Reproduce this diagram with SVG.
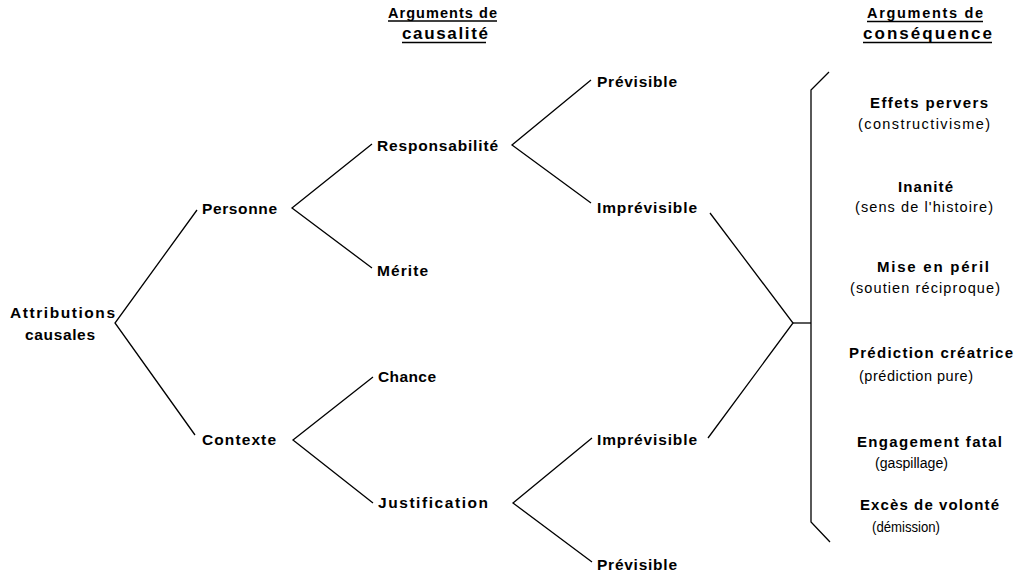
<svg xmlns="http://www.w3.org/2000/svg" width="1020" height="579" viewBox="0 0 1020 579">
<style>
  .b{font-family:"Liberation Sans",Arial,sans-serif;font-weight:bold;font-size:15.5px;fill:#000}
  .rb{font-family:"Liberation Sans",Arial,sans-serif;font-weight:bold;font-size:15px;fill:#000}
  .r{font-family:"Liberation Sans",Arial,sans-serif;font-size:14.5px;fill:#000}
  .rs{font-family:"Liberation Sans",Arial,sans-serif;font-size:14px;fill:#000}
  .h{font-family:"Liberation Sans",Arial,sans-serif;font-weight:bold;font-size:14.5px;fill:#000}
  .h2{font-family:"Liberation Sans",Arial,sans-serif;font-weight:bold;font-size:17px;fill:#000}
  .ln{stroke:#000;stroke-width:1.3;fill:none;stroke-linejoin:miter}
  .ul{stroke:#000;stroke-width:1.6}
</style>
<rect width="1020" height="579" fill="#fff"/>
<g id="headers">
  <text class="h" x="388" y="18" textLength="109" lengthAdjust="spacing">Arguments de</text>
  <line class="ul" x1="388" y1="21" x2="497" y2="21"/>
  <text class="h2" x="402" y="39" textLength="86" lengthAdjust="spacing">causalité</text>
  <line class="ul" x1="402" y1="42.5" x2="486" y2="42.5"/>
  <text class="h" x="867" y="18" textLength="116" lengthAdjust="spacing">Arguments de</text>
  <line class="ul" x1="867" y1="21.5" x2="983" y2="21.5"/>
  <text class="h2" x="863" y="39" textLength="129" lengthAdjust="spacing">conséquence</text>
  <line class="ul" x1="863" y1="42.5" x2="992" y2="42.5"/>
</g>
<g id="connectors">
  <polyline class="ln" points="197,210 115,323 195,435"/>
  <polyline class="ln" points="372,144 292,208 372,268"/>
  <polyline class="ln" points="591,80 512,145 591,203"/>
  <polyline class="ln" points="373,377 293,440 373,503"/>
  <polyline class="ln" points="592,438 513,503 592,562"/>
  <polyline class="ln" points="710,213 793,323 708,438"/>
  <line class="ln" x1="793" y1="323" x2="811" y2="323"/>
  <polyline class="ln" points="829,72 811,90 811,522 830,542"/>
</g>
<g id="n-attributions">
  <text class="b" x="10" y="318" textLength="105" lengthAdjust="spacing">Attributions</text>
  <text class="b" x="25" y="340" textLength="70" lengthAdjust="spacing">causales</text>
</g>
<g id="n-personne"><text class="b" x="202" y="214" textLength="75" lengthAdjust="spacing">Personne</text></g>
<g id="n-contexte"><text class="b" x="202" y="445" textLength="74" lengthAdjust="spacing">Contexte</text></g>
<g id="n-responsabilite"><text class="b" x="377" y="151" textLength="121" lengthAdjust="spacing">Responsabilité</text></g>
<g id="n-merite"><text class="b" x="377" y="276" textLength="51" lengthAdjust="spacing">Mérite</text></g>
<g id="n-chance"><text class="b" x="378" y="382" textLength="58" lengthAdjust="spacing">Chance</text></g>
<g id="n-justification"><text class="b" x="378" y="508" textLength="110" lengthAdjust="spacing">Justification</text></g>
<g id="n-previsible1"><text class="b" x="597" y="87" textLength="80" lengthAdjust="spacing">Prévisible</text></g>
<g id="n-imprevisible1"><text class="b" x="597" y="213" textLength="100" lengthAdjust="spacing">Imprévisible</text></g>
<g id="n-imprevisible2"><text class="b" x="597" y="445" textLength="100" lengthAdjust="spacing">Imprévisible</text></g>
<g id="n-previsible2"><text class="b" x="597" y="570" textLength="80" lengthAdjust="spacing">Prévisible</text></g>
<g id="n-effets">
  <text class="rb" x="870" y="108" textLength="118" lengthAdjust="spacing">Effets pervers</text>
  <text class="r" x="858" y="129" textLength="132" lengthAdjust="spacing">(constructivisme)</text>
</g>
<g id="n-inanite">
  <text class="rb" x="898" y="192" textLength="55" lengthAdjust="spacing">Inanité</text>
  <text class="r" x="855" y="212" textLength="138" lengthAdjust="spacing">(sens de l'histoire)</text>
</g>
<g id="n-peril">
  <text class="rb" x="877" y="272" textLength="112" lengthAdjust="spacing">Mise en péril</text>
  <text class="r" x="850" y="293" textLength="150" lengthAdjust="spacing">(soutien réciproque)</text>
</g>
<g id="n-prediction">
  <text class="rb" x="849" y="358" textLength="164" lengthAdjust="spacing">Prédiction créatrice</text>
  <text class="r" x="859" y="381" textLength="114" lengthAdjust="spacing">(prédiction pure)</text>
</g>
<g id="n-engagement">
  <text class="rb" x="857" y="447" textLength="145" lengthAdjust="spacing">Engagement fatal</text>
  <text class="rs" x="875" y="468" textLength="73" lengthAdjust="spacingAndGlyphs">(gaspillage)</text>
</g>
<g id="n-exces">
  <text class="rb" x="860" y="510" textLength="139" lengthAdjust="spacing">Excès de volonté</text>
  <text class="rs" x="872" y="532" textLength="68" lengthAdjust="spacingAndGlyphs">(démission)</text>
</g>
</svg>
